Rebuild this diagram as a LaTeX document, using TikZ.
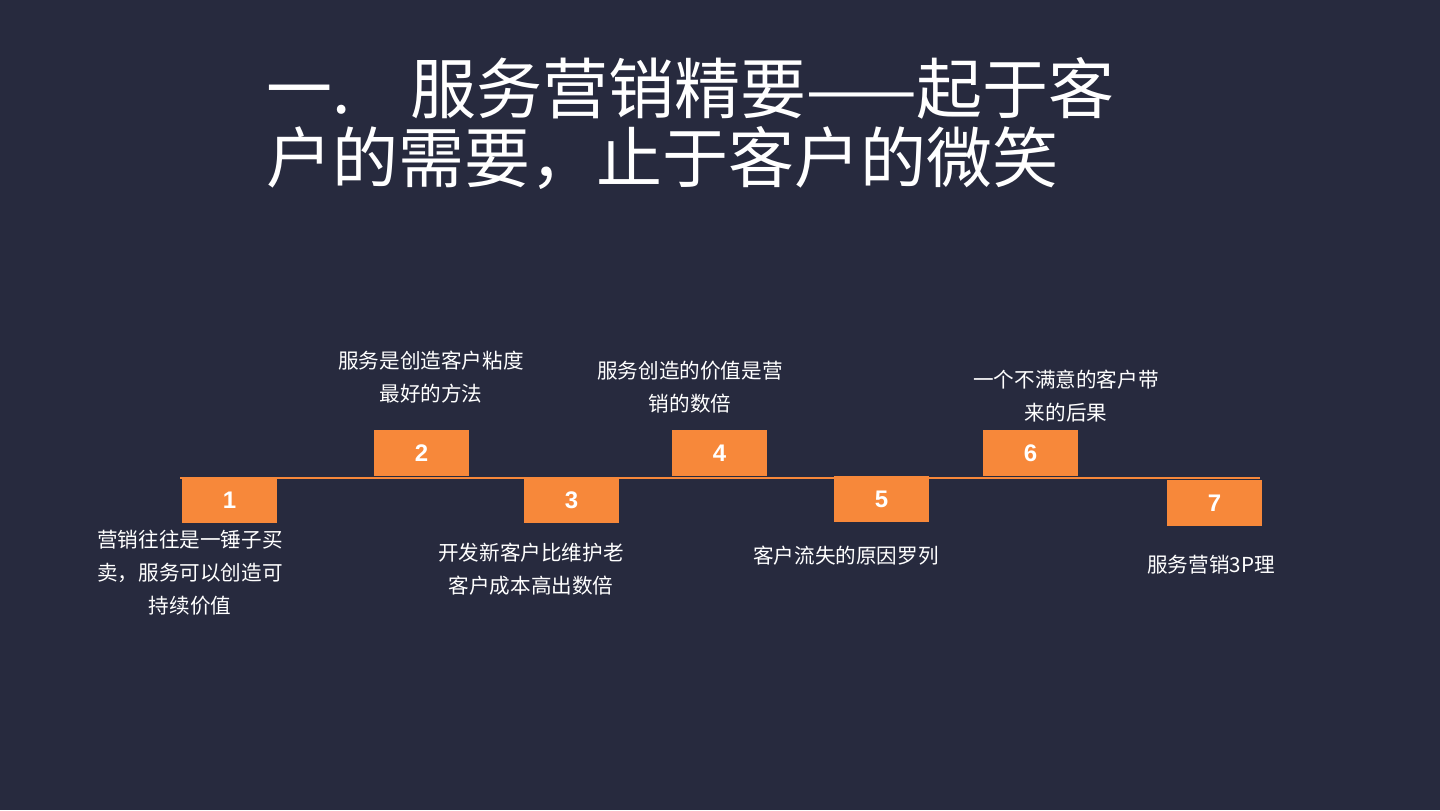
\documentclass[tikz,border=0pt]{standalone}
\usepackage{fontspec}
\setmainfont{Liberation Sans}
\newfontfamily\cjk{Noto Sans CJK SC}
\definecolor{bg}{HTML}{272A3E}
\definecolor{org}{HTML}{F7883A}
\begin{document}
\begin{tikzpicture}[x=0.5pt,y=-0.5pt,
  numbox/.style={fill=org,minimum width=47.5pt,minimum height=23pt,inner sep=0pt,text=white,font=\bfseries\fontsize{12}{12}\selectfont},
  lbl/.style={text=white,font=\cjk\fontsize{10.3}{16.5}\selectfont,align=center},
  ttl/.style={text=white,font=\cjk\fontsize{33}{33}\selectfont,anchor=west,inner sep=0pt}]
\fill[bg] (0,0) rectangle (1440,810);
\node[ttl] (t1) at (266,88) {一.\hspace{0.9em}服务营销精要——起于客};
\node[ttl] (t2) at (266,158) {户的需要，止于客户的微笑};
\coordinate (la) at (180,478);
\coordinate (lb) at (1260,478);
\draw[org,line width=1pt] (la) -- (lb);
\node[numbox] (b1) at (229.5,500) {1};
\node[numbox] (b2) at (421.5,453) {2};
\node[numbox] (b3) at (571.5,500) {3};
\node[numbox] (b4) at (719.5,453) {4};
\node[numbox] (b5) at (881.5,499) {5};
\node[numbox] (b6) at (1030.5,453) {6};
\node[numbox] (b7) at (1214.5,503) {7};
\node[lbl] (l1) at (190,573) {营销往往是一锤子买\\卖，服务可以创造可\\持续价值};
\node[lbl] (l2) at (431,377) {服务是创造客户粘度\\最好的方法};
\node[lbl] (l3) at (531,569) {开发新客户比维护老\\客户成本高出数倍};
\node[lbl] (l4) at (690,387) {服务创造的价值是营\\销的数倍};
\node[lbl] (l5) at (846,556) {客户流失的原因罗列};
\node[lbl] (l6) at (1066,396) {一个不满意的客户带\\来的后果};
\node[lbl] (l7) at (1211,565) {服务营销3P理};
\end{tikzpicture}
\end{document}
